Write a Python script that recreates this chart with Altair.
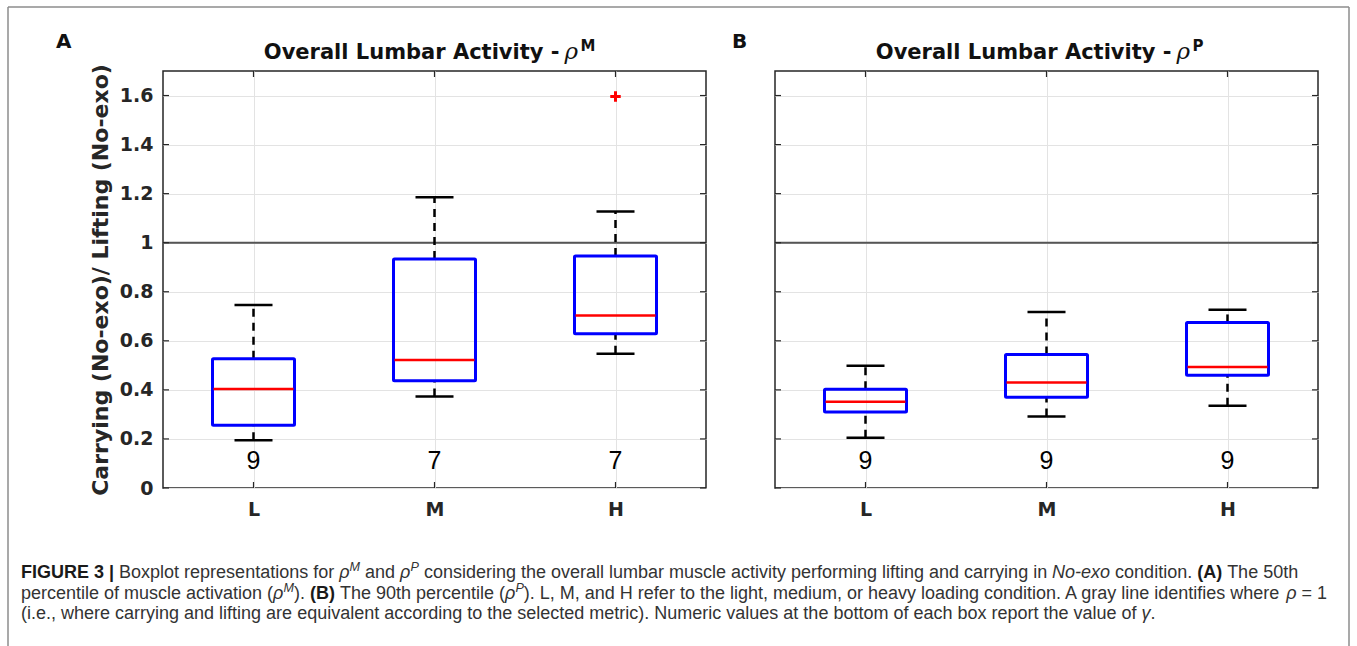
import altair as alt
import pandas as pd

# ---------------- data ----------------
categories = ["L", "M", "H"]
y_ticks = [0, 0.2, 0.4, 0.6, 0.8, 1.0, 1.2, 1.4, 1.6]

# Panel A : rho^M
a_whisker_low = [0.195, 0.373, 0.547]
a_q1 = [0.256, 0.437, 0.629]
a_median = [0.404, 0.522, 0.703]
a_q3 = [0.527, 0.934, 0.946]
a_whisker_high = [0.746, 1.185, 1.127]
a_counts = ["9", "7", "7"]
a_outlier_cat = ["H"]
a_outlier_val = [1.596]

# Panel B : rho^P
b_whisker_low = [0.205, 0.291, 0.335]
b_q1 = [0.310, 0.370, 0.460]
b_median = [0.352, 0.430, 0.493]
b_q3 = [0.403, 0.544, 0.675]
b_whisker_high = [0.498, 0.718, 0.727]
b_counts = ["9", "9", "9"]

reference_value = 1.0
count_label_value = 0.11

# caption: (text, weight, style, superscript)
caption_lines = [
    [("FIGURE 3 | ", "bold", "normal", False),
     ("Boxplot representations for ", "normal", "normal", False),
     ("ρ", "normal", "italic", False), ("M", "normal", "italic", True),
     (" and ", "normal", "normal", False),
     ("ρ", "normal", "italic", False), ("P", "normal", "italic", True),
     (" considering the overall lumbar muscle activity performing lifting and carrying in ", "normal", "normal", False),
     ("No-exo", "normal", "italic", False),
     (" condition. ", "normal", "normal", False),
     ("(A)", "bold", "normal", False),
     (" The 50th", "normal", "normal", False)],
    [("percentile of muscle activation (", "normal", "normal", False),
     ("ρ", "normal", "italic", False), ("M", "normal", "italic", True),
     ("). ", "normal", "normal", False),
     ("(B)", "bold", "normal", False),
     (" The 90th percentile (", "normal", "normal", False),
     ("ρ", "normal", "italic", False), ("P", "normal", "italic", True),
     ("). L, M, and H refer to the light, medium, or heavy loading condition. A gray line identifies where ", "normal", "normal", False),
     ("ρ", "normal", "italic", False),
     (" = 1", "normal", "normal", False)],
    [("(i.e., where carrying and lifting are equivalent according to the selected metric). Numeric values at the bottom of each box report the value of ", "normal", "normal", False),
     ("γ", "normal", "italic", False),
     (".", "normal", "normal", False)],
]

# ---------------- styling ----------------
W, H = 543, 417
GRID = "#e3e3e3"
AXC = "#262626"
BOLD = "DejaVu Sans"

ysc = alt.Scale(domain=[0, 1.7], nice=False, zero=False)
xsc = alt.Scale(type="point", padding=0.5, domain=categories)

# Arial / Liberation Sans advance widths (em/1000) for text layout of the caption
_REG = dict(zip(" !(),-./0123456789=|", [278, 278, 333, 333, 278, 333, 278, 278] + [556] * 10 + [584, 260]))
_REG.update(dict(zip("ABCDEFGHIJKLMNOPQRSTUVWXYZ",
                     [667, 667, 722, 722, 667, 611, 778, 722, 278, 500, 667, 556, 833, 722, 778, 667, 778, 722, 667, 611, 722, 667, 944, 667, 667, 611])))
_REG.update(dict(zip("abcdefghijklmnopqrstuvwxyz",
                     [556, 556, 500, 556, 556, 278, 556, 556, 222, 222, 500, 222, 833, 556, 556, 556, 556, 333, 500, 278, 556, 500, 722, 500, 500, 500])))
_REG.update({"ρ": 577, "γ": 500})
_BLD = dict(_REG)
_BLD.update({"A": 722, "B": 722, "F": 611, "G": 778, "I": 278, "R": 722, "E": 667, "U": 722, "|": 280})


def text_width(t, size, weight):
    tab = _BLD if weight == "bold" else _REG
    return sum(tab.get(ch, 556) for ch in t) / 1000.0 * size


def y_axis(show):
    if show:
        return alt.Axis(values=y_ticks, format="~g",
                        title="Carrying (No-exo)/ Lifting (No-exo)",
                        titleFont=BOLD, titleFontSize=22, titleFontWeight="bold",
                        titleColor=AXC, titlePadding=7,
                        labelFont=BOLD, labelFontSize=19, labelFontWeight="bold",
                        labelColor=AXC, labelPadding=10,
                        ticks=False, domain=False, grid=True, gridColor=GRID)
    return alt.Axis(values=y_ticks, labels=False, title=None, ticks=False,
                    domain=False, grid=True, gridColor=GRID)


x_axis = alt.Axis(title=None, labelAngle=0, labelFont=BOLD, labelFontSize=19,
                  labelFontWeight="bold", labelColor=AXC, labelPadding=12,
                  ticks=False, domain=False, grid=True, gridColor=GRID)


def text_at(txt, x, y, size, weight="normal", style="normal",
            font="Liberation Sans", color="#333333", align="left"):
    return alt.Chart(pd.DataFrame({"t": [txt]})).mark_text(
        align=align, baseline="alphabetic", font=font, fontSize=size,
        fontWeight=weight, fontStyle=style, color=color
    ).encode(x=alt.value(x), y=alt.value(y), text="t:N")


def vline(x, y1, y2, color="#8c8c8c", w=1.5):
    return alt.Chart(pd.DataFrame({"a": [0]})).mark_rule(color=color, strokeWidth=w).encode(
        x=alt.value(x), y=alt.value(y1), y2=alt.value(y2))


def hline(y, x1, x2, color="#8c8c8c", w=1.5):
    return alt.Chart(pd.DataFrame({"a": [0]})).mark_rule(color=color, strokeWidth=w).encode(
        y=alt.value(y), x=alt.value(x1), x2=alt.value(x2))


def panel(wl, q1, med, q3, wh, counts, show_y, sup, letter, letter_x,
          out_cat=None, out_val=None):
    df = pd.DataFrame({"cat": categories, "wl": wl, "q1": q1, "med": med,
                       "q3": q3, "wh": wh, "n": counts})
    yax = y_axis(show_y)
    X = alt.X("cat:N", scale=xsc, axis=x_axis, sort=categories)

    def Y(f):
        return alt.Y(f"{f}:Q", scale=ysc, axis=yax)

    base = alt.Chart(df)
    ref = alt.Chart(pd.DataFrame({"v": [reference_value]})).mark_rule(
        color="#555555", strokeWidth=2).encode(y=alt.Y("v:Q", scale=ysc, axis=yax))
    whisk_up = base.mark_rule(color="black", strokeWidth=2.5, strokeDash=[8, 6]).encode(
        x=X, y=Y("q3"), y2="wh:Q")
    whisk_dn = base.mark_rule(color="black", strokeWidth=2.5, strokeDash=[8, 6]).encode(
        x=X, y=Y("wl"), y2="q1:Q")
    cap_up = base.mark_tick(color="black", size=38, thickness=2.5, opacity=1).encode(x=X, y=Y("wh"))
    cap_dn = base.mark_tick(color="black", size=38, thickness=2.5, opacity=1).encode(x=X, y=Y("wl"))
    box = base.mark_bar(filled=False, color="#0000ff", strokeWidth=3, size=82,
                        cornerRadius=1).encode(x=X, y=Y("q1"), y2="q3:Q")
    median = base.mark_tick(color="#ff0000", size=80, thickness=2.5, opacity=1).encode(
        x=X, y=Y("med"))
    cnt = base.mark_text(font="Liberation Sans", fontSize=25, color="black",
                         baseline="middle").encode(
        x=X, y=alt.Y(datum=count_label_value, scale=ysc, axis=yax), text="n:N")

    tick_df = pd.DataFrame({"v": y_ticks})
    lt = alt.Chart(tick_df).mark_rule(color=AXC, strokeWidth=1.2).encode(
        y=alt.Y("v:Q", scale=ysc, axis=yax), x=alt.value(0), x2=alt.value(6))
    rt = alt.Chart(tick_df).mark_rule(color=AXC, strokeWidth=1.2).encode(
        y=alt.Y("v:Q", scale=ysc, axis=yax), x=alt.value(W - 6), x2=alt.value(W))
    bt = base.mark_rule(color=AXC, strokeWidth=1.2).encode(
        x=X, y=alt.value(H - 6), y2=alt.value(H))
    tt = base.mark_rule(color=AXC, strokeWidth=1.2).encode(
        x=X, y=alt.value(0), y2=alt.value(6))

    c = W / 2
    layers = [ref, whisk_up, whisk_dn, cap_up, cap_dn, box, median, cnt, lt, rt, bt, tt]
    if out_cat is not None:
        odf = pd.DataFrame({"cat": out_cat, "v": out_val})
        layers.append(alt.Chart(odf).mark_point(
            shape="M-1,0H1M0,-1V1", filled=False, color="#ff0000", strokeWidth=3,
            size=110, opacity=1).encode(x=X, y=alt.Y("v:Q", scale=ysc, axis=yax)))

    layers += [
        text_at("Overall Lumbar Activity -", c + 125, -12, 21, "bold", font=BOLD,
                color="#111111", align="right"),
        text_at("ρ", c + 130, -12, 23, style="italic", font="DejaVu Serif", color="#111111"),
        text_at(sup, c + 146, -20, 15, "bold", font=BOLD, color="#111111"),
        text_at(letter, letter_x, -23, 20, "bold", font=BOLD, color="#111111"),
    ]
    return alt.layer(*layers).properties(width=W, height=H)


panel_a = panel(a_whisker_low, a_q1, a_median, a_q3, a_whisker_high, a_counts,
                True, "M", "A", -107, a_outlier_cat, a_outlier_val)

# frame and caption (placed relative to panel A's plot area)
OX, OY = 162, 70
CAP = 18
cap_x0 = 20
cap_baselines = [577, 597.5, 618]
extras = [
    vline(7 - OX, 6 - OY, 646 - OY),
    vline(1348 - OX, 6 - OY, 646 - OY),
    hline(6 - OY, 7 - OX, 1348 - OX),
]
for line, yb in zip(caption_lines, cap_baselines):
    x = cap_x0
    for txt, wgt, sty, is_sup in line:
        size = CAP * 0.7 if is_sup else CAP
        dy = -CAP * 0.38 if is_sup else 0
        col = "#1a1a1a" if wgt == "bold" else "#333333"
        core = txt.strip(" ")
        lead = len(txt) - len(txt.lstrip(" "))
        trail = len(txt) - len(txt.rstrip(" "))
        x += text_width(" " * lead, size, wgt)
        extras.append(text_at(core, x - OX, yb + dy - OY, size, wgt, sty, color=col))
        x += text_width(core, size, wgt) + text_width(" " * trail, size, wgt)

panel_a = alt.layer(panel_a, *extras)

panel_b = panel(b_whisker_low, b_q1, b_median, b_q3, b_whisker_high, b_counts,
                False, "P", "B", -43)

chart = alt.hconcat(panel_a, panel_b, spacing=69, bounds="flush").configure_view(
    stroke=AXC, strokeWidth=1.5
).properties(
    padding={"left": 6, "top": 5, "right": 0, "bottom": 0},
    background="white",
)

chart.save("out.html", embed_options={"renderer": "svg", "actions": False})
